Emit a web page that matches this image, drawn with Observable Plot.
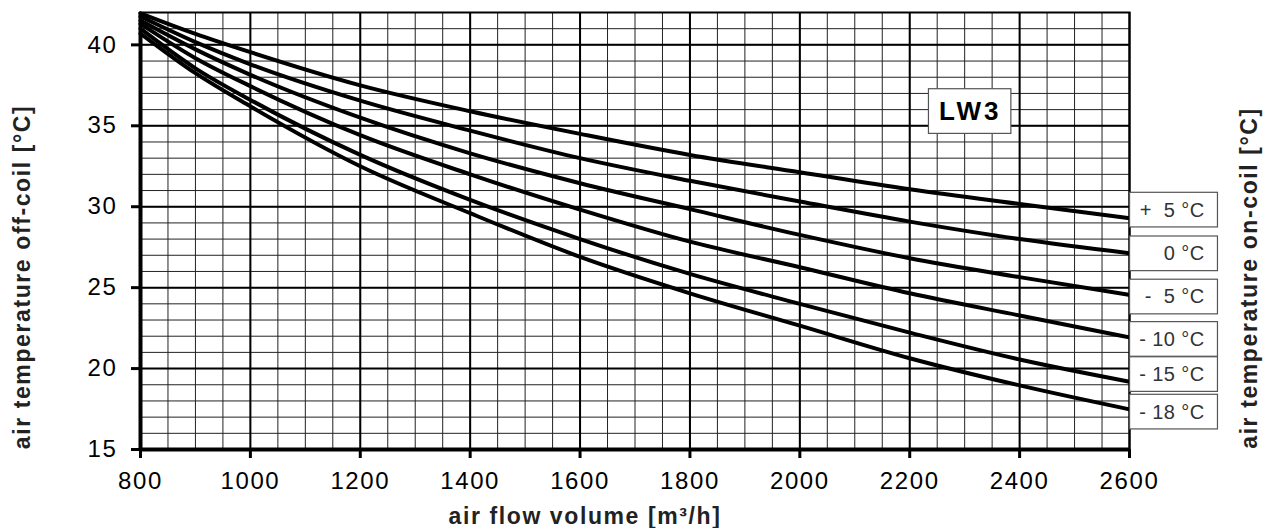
<!DOCTYPE html>
<html><head><meta charset="utf-8">
<script src="https://cdn.jsdelivr.net/npm/d3@7"></script>
<script src="https://cdn.jsdelivr.net/npm/@observablehq/plot@0.6"></script>
<style>
html,body{margin:0;padding:0;background:#fff}
#chart svg text{white-space:pre}
</style></head><body><div id="chart"></div>
<script>
// air flow volume [m³/h]
const flow = [800, 900, 1000, 1200, 1400, 1600, 1800, 2000, 2200, 2400, 2600];
// air temperature off-coil [°C] for each on-coil temperature
const seriesNames = ["+5", "0", "-5", "-10", "-15", "-18"];
const tPlus5  = [41.95, 40.68, 39.55, 37.50, 35.90, 34.50, 33.20, 32.13, 31.08, 30.17, 29.29];
const tZero   = [41.75, 40.17, 38.80, 36.55, 34.70, 33.00, 31.60, 30.32, 29.08, 28.00, 27.13];
const tMinus5 = [41.50, 39.72, 38.15, 35.50, 33.30, 31.45, 29.85, 28.26, 26.82, 25.65, 24.55];
const tMinus10= [41.30, 39.18, 37.45, 34.42, 32.00, 29.82, 27.84, 26.26, 24.65, 23.28, 21.93];
const tMinus15= [41.00, 38.55, 36.60, 33.20, 30.42, 28.00, 25.85, 24.00, 22.22, 20.56, 19.19];
const tMinus18= [40.70, 38.25, 36.20, 32.50, 29.60, 26.90, 24.65, 22.65, 20.64, 18.96, 17.48];
const legendText = ["+  5 °C", "0 °C", "-  5 °C", "- 10 °C", "- 15 °C", "- 18 °C"];
const legendAt = [29.79, 27.09, 24.42, 21.80, 19.63, 17.31];
const xTicks = [800, 1000, 1200, 1400, 1600, 1800, 2000, 2200, 2400, 2600];
const yTicks = [15, 20, 25, 30, 35, 40];
const badge = "LW3";

const allSeries = [tPlus5, tZero, tMinus5, tMinus10, tMinus15, tMinus18];
const rows = [];
allSeries.forEach((vals, i) => vals.forEach((v, j) => rows.push({series: seriesNames[i], flow: flow[j], temp: v})));
const legend = legendText.map((t, i) => ({text: t, at: legendAt[i]}));

const xMinor = d3.range(800, 2601, 50);
const yMinor = d3.range(15, 42.5, 1);
const xMajor = d3.range(800, 2601, 200);
const yMajor = d3.range(15, 42.5, 5);

const chart = Plot.plot({
  width: 1270, height: 528,
  marginLeft: 140, marginRight: 141, marginTop: 12, marginBottom: 79,
  style: {fontFamily: "'Liberation Sans', Arial, sans-serif", fontSize: "24px", background: "#fff", color: "#000"},
  x: {domain: [800, 2600], label: null},
  y: {domain: [15, 42], label: null},
  marks: [
    Plot.ruleX(xMinor, {stroke: "#222", strokeWidth: 1}),
    Plot.ruleY(yMinor, {stroke: "#222", strokeWidth: 1}),
    Plot.ruleX(xMajor, {stroke: "#000", strokeWidth: 2}),
    Plot.ruleY(yMajor, {stroke: "#000", strokeWidth: 2}),
    Plot.frame({stroke: "#000", strokeWidth: 2}),
    Plot.ruleX([800], {stroke: "#000", strokeWidth: 4}),
    Plot.ruleY([15], {stroke: "#000", strokeWidth: 4}),
    Plot.axisX(xTicks, {tickSize: 9, strokeWidth: 3, tickFormat: () => "", label: null}),
    Plot.axisY(yTicks, {tickSize: 9, strokeWidth: 3, tickFormat: () => "", label: null}),
    Plot.text(xTicks, {x: d => d, text: d => String(d), frameAnchor: "bottom", lineAnchor: "middle", textAnchor: "middle", dy: 32, fontSize: 24, fill: "#000"}),
    Plot.text(yTicks, {y: d => d, text: d => String(d), frameAnchor: "left", lineAnchor: "middle", textAnchor: "end", dx: -23, fontSize: 24, fill: "#000"}),
    Plot.line(rows, {x: "flow", y: "temp", z: "series", stroke: "#000", strokeWidth: 4, curve: "monotone-x"}),
    Plot.rect(legend, {x1: 2601, x2: 2761, y1: d => d.at - 1.07, y2: d => d.at + 1.07, fill: "#fff", stroke: "#555", strokeWidth: 1.2}),
    Plot.text(legend, {x: 2600, y: "at", text: "text", textAnchor: "end", lineAnchor: "middle", dx: 75, fontSize: 20, fill: "#333"}),
    Plot.rect([badge], {x1: 2235, x2: 2385, y1: 34.5, y2: 37.26, fill: "#fff", stroke: "#555", strokeWidth: 1.2}),
    Plot.text([badge], {x: 2310, y: 35.88, text: d => d, lineAnchor: "middle", textAnchor: "middle", fontSize: 26, fontWeight: "bold", fill: "#000"}),
    Plot.text(["air temperature off-coil [°C]"], {frameAnchor: "left", textAnchor: "middle", lineAnchor: "middle", rotate: -90, dx: -118, dy: 46, fontSize: 23, fontWeight: "bold", fill: "#222"}),
    Plot.text(["air temperature on-coil [°C]"], {frameAnchor: "right", textAnchor: "middle", lineAnchor: "middle", rotate: -90, dx: 120, dy: 47, fontSize: 23, fontWeight: "bold", fill: "#222"}),
    Plot.text(["air flow volume [m³/h]"], {frameAnchor: "bottom", textAnchor: "middle", lineAnchor: "middle", dx: -50, dy: 67, fontSize: 23, fontWeight: "bold", fill: "#222"})
  ]
});
d3.select(chart).selectAll("text").each(function() {
  const t = this.textContent;
  if (t === badge) this.style.letterSpacing = "3px";
  else if (legendText.includes(t)) this.style.letterSpacing = "0.4px";
  else this.style.letterSpacing = "1.6px";
});
document.getElementById("chart").appendChild(chart);
</script></body></html>
